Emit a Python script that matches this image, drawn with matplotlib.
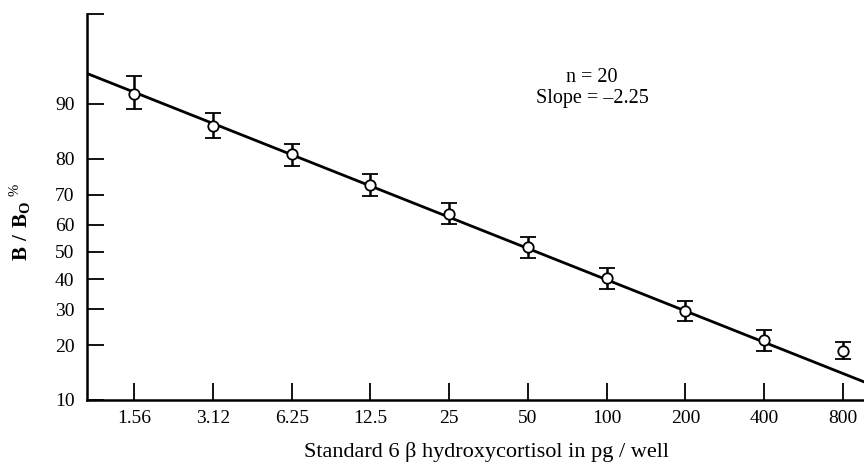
import numpy as np
import matplotlib.pyplot as plt

plt.rcParams['font.family'] = 'Liberation Serif'
plt.rcParams['mathtext.fontset'] = 'custom'
plt.rcParams['mathtext.rm'] = 'Liberation Serif'
plt.rcParams['mathtext.bf'] = 'Liberation Serif:bold'

# standard concentrations (pg / well) and binding in percent
conc = [1.56, 3.12, 6.25, 12.5, 25, 50, 100, 200, 400, 800]
conc_labels = ['1.56', '3.12', '6.25', '12.5', '25', '50', '100', '200', '400', '800']
b_b0 = [91.3, 86.6, 81.0, 73.0, 63.7, 51.9, 40.5, 29.4, 21.3, 18.7]
b_hi = [93.2, 88.7, 83.2, 76.1, 67.4, 55.5, 44.1, 32.6, 23.9, 20.8]
b_lo = [89.3, 84.4, 78.2, 69.7, 60.2, 47.8, 36.6, 26.4, 18.7, 17.0]

# regression line end points
fit_x = [1.031, 963]
fit_y = [93.4, 12.7]

y_ticks = [10, 20, 30, 40, 50, 60, 70, 80, 90]
y_top = 97.16


def fwd(p):
    p = np.clip(np.asarray(p, dtype=float) / 100.0, 1e-6, 1 - 1e-6)
    return np.log(p / (1 - p))


def inv(z):
    return 100.0 / (1 + np.exp(-np.asarray(z, dtype=float)))


def main():
    fig = plt.figure(figsize=(8.64, 4.62), dpi=100)
    ax = fig.add_axes([87/864, 1 - 400/462, 777/864, 386/462])
    ax.set_xscale('log', base=2)
    ax.set_yscale('function', functions=(fwd, inv))

    b = np.array(b_b0)
    yerr = [b - np.array(b_lo), np.array(b_hi) - b]

    ax.plot(fit_x, fit_y, color='black', lw=2.0, zorder=2)
    ax.errorbar(conc, b_b0, yerr=yerr, fmt='o', ms=7.5, mfc='white',
                mec='black', mew=1.3, ecolor='black', elinewidth=1.8,
                capsize=6, capthick=2.2, zorder=3)

    ax.set_xlim(fit_x[0], fit_x[1])
    ax.set_ylim(10, y_top)

    ax.set_xticks(conc)
    ax.set_xticklabels(conc_labels)
    ax.xaxis.set_minor_locator(plt.NullLocator())
    ax.set_yticks(y_ticks)
    ax.set_yticklabels([str(v) for v in y_ticks])
    ax.set_yticks([y_top], minor=True)
    ax.set_yticklabels([''], minor=True)

    ax.tick_params(axis='both', which='both', direction='in', length=12,
                   width=1.3, labelsize=14, color='black')
    ax.tick_params(axis='x', pad=7)
    ax.tick_params(axis='y', pad=9)

    for side in ['top', 'right']:
        ax.spines[side].set_visible(False)
    for side in ['left', 'bottom']:
        ax.spines[side].set_linewidth(1.8)

    ax.text(0.65, 0.808, 'n = 20\nSlope = \u20132.25', transform=ax.transAxes,
            ha='center', va='center', fontsize=14.5, linespacing=1.15)

    fig.text(487/864, 1 - 452/462, 'Standard 6 \u03b2 hydroxycortisol in pg / well',
             ha='center', va='center', fontsize=16)
    fig.text(20/864, 1 - 222/462, r'$\mathbf{B\ /\ B_O}^{\ \mathrm{\%}}$',
             ha='center', va='center', rotation=90, fontsize=15)

    fig.savefig('out.png', dpi=100)


if __name__ == '__main__':
    main()
